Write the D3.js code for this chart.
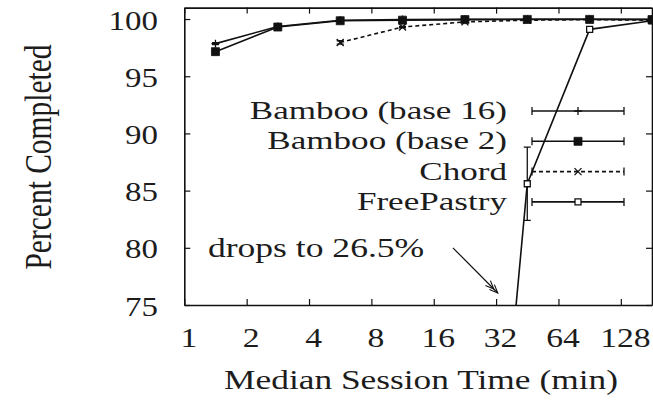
<!DOCTYPE html>
<html><head><meta charset="utf-8">
<script src="https://cdn.jsdelivr.net/npm/d3@7"></script>
<style>
body{margin:0;background:#fff}
svg{display:block}
text{font-family:'Liberation Serif','Times New Roman',serif;fill:#1c1c1c}
</style>
</head><body><svg id="c" width="653" height="400"></svg>
<script>
// ---- data ----
const sessionTimes = [1.414, 2.828, 5.657, 11.31, 22.63, 45.25, 90.51, 181.0];
const bamboo16     = [97.85, 99.35, 99.9, 99.95, 99.97, 99.98, 99.98, 99.98];
const bamboo16Err  = [0.08, 0.05, 0.03, 0.02, 0.02, 0.02, 0.02, 0.02];
const bamboo2      = [97.15, 99.3, 99.85, 99.9, 99.95, 99.97, 99.97, 99.95];
const bamboo2Err   = [0.1, 0.05, 0.03, 0.02, 0.02, 0.02, 0.02, 0.02];
const chord        = [null, null, 97.95, 99.3, 99.75, 99.9, 99.95, 99.9];
const chordErr     = [0, 0, 0.15, 0.06, 0.04, 0.03, 0.02, 0.02];
const freePastry   = [null, null, null, null, 26.5, 85.6, 99.1, 99.85];
const freePastryErr= [0, 0, 0, 0, 0, 3.2, 0.1, 0.05];
const seriesNames  = ["Bamboo (base 16)", "Bamboo (base 2)", "Chord", "FreePastry"];
const xTicks = [1, 2, 4, 8, 16, 32, 64, 128];
const yTicks = [75, 80, 85, 90, 95, 100];
const annotationText = "drops to 26.5%";
const xTitle = "Median Session Time (min)";
const yTitle = "Percent Completed";

// ---- layout ----
const L = 184.3, R = 652, T = 7.6, B = 305;
const svg = d3.select("#c");
const x = d3.scaleLog().base(2).domain([1, 181.02]).range([L, R]);
const y = d3.scaleLinear().domain([75, 101]).range([B, T]);
const ink = "#111";

function stretch(sel, sx){
  sel.each(function(){
    const t = d3.select(this);
    const tx = +t.attr("x") || 0, ty = +t.attr("y") || 0;
    t.attr("x", 0).attr("y", 0).attr("transform", `translate(${tx},${ty}) scale(${sx},1)`);
  });
}

const series = [
  {name: seriesNames[0], v: bamboo16, e: bamboo16Err, dash: null, marker: "plus"},
  {name: seriesNames[1], v: bamboo2, e: bamboo2Err, dash: null, marker: "fsquare"},
  {name: seriesNames[2], v: chord, e: chordErr, dash: "4,3", marker: "cross"},
  {name: seriesNames[3], v: freePastry, e: freePastryErr, dash: null, marker: "osquare"}
];

function markerPath(type){
  if (type === "plus") return "M-4,0H4M0,-4V4";
  if (type === "cross") return "M-3.5,-3.5L3.5,3.5M-3.5,3.5L3.5,-3.5";
  if (type === "fsquare") return "M-4,-4H4V4H-4Z";
  return "M-3,-3H3V3H-3Z";
}
function drawMarker(g, type, cx, cy){
  const p = g.append("path").attr("d", markerPath(type)).attr("transform", `translate(${cx},${cy})`);
  if (type === "fsquare") p.attr("fill", ink).attr("stroke", ink).attr("stroke-width", 0.8);
  else if (type === "osquare") p.attr("fill", "#fff").attr("stroke", ink).attr("stroke-width", 1.3);
  else p.attr("fill", "none").attr("stroke", ink).attr("stroke-width", 1.3);
}

// ---- clip ----
svg.append("defs").append("clipPath").attr("id", "clip")
  .append("rect").attr("x", L).attr("y", T).attr("width", R - L).attr("height", B - T);
const plot = svg.append("g").attr("clip-path", "url(#clip)");

const line = d3.line().defined(d => d.v != null).x(d => x(d.t)).y(d => y(d.v));

series.slice().reverse().forEach(s => {
  const pts = sessionTimes.map((t, i) => ({t, v: s.v[i], e: s.e[i]}));
  plot.append("path").datum(pts).attr("d", line)
    .attr("fill", "none").attr("stroke", ink).attr("stroke-width", 1.6)
    .attr("stroke-dasharray", s.dash);
  pts.filter(d => d.v != null && d.v >= 75).forEach(d => {
    const cx = x(d.t);
    if (d.e > 0){
      const y1 = y(d.v - d.e), y2 = y(d.v + d.e);
      plot.append("path").attr("d", `M${cx},${y1}V${y2}M${cx-3.5},${y1}H${cx+3.5}M${cx-3.5},${y2}H${cx+3.5}`)
        .attr("stroke", ink).attr("stroke-width", 1.3).attr("fill", "none");
    }
    drawMarker(plot, s.marker, cx, y(d.v));
  });
});

// ---- axes (border with mirrored inward ticks) ----
const axB = svg.append("g").attr("transform", `translate(0,${B})`)
  .call(d3.axisBottom(x).tickValues(xTicks).tickFormat(d => d).tickSizeInner(-6).tickSizeOuter(0));
const axT = svg.append("g").attr("transform", `translate(0,${T})`)
  .call(d3.axisTop(x).tickValues(xTicks).tickFormat("").tickSizeInner(-6).tickSizeOuter(0));
const axL = svg.append("g").attr("transform", `translate(${L},0)`)
  .call(d3.axisLeft(y).tickValues(yTicks).tickFormat(d => d).tickSizeInner(-6).tickSizeOuter(0));
const axR = svg.append("g").attr("transform", `translate(${R},0)`)
  .call(d3.axisRight(y).tickValues(yTicks).tickFormat("").tickSizeInner(-6).tickSizeOuter(0));
[axB, axT, axL, axR].forEach(a => {
  a.selectAll("path.domain").attr("stroke", ink).attr("stroke-width", 1.6);
  a.selectAll(".tick line").attr("stroke", ink).attr("stroke-width", 1.2);
});
axB.selectAll("text").attr("font-size", 28).attr("fill", "#1c1c1c")
  .attr("font-family", "'Liberation Serif',serif").attr("dy", 0).attr("y", 42).attr("x", 4);
stretch(axB.selectAll("text"), 1.2);
axL.selectAll("text").attr("font-size", 27).attr("fill", "#1c1c1c")
  .attr("font-family", "'Liberation Serif',serif").attr("dy", 0).attr("y", 10).attr("x", -26.3);
stretch(axL.selectAll("text"), 1.22);

// ---- titles ----
const xt = svg.append("text").attr("x", 421).attr("y", 389).attr("text-anchor", "middle")
  .attr("font-size", 27).text(xTitle);
stretch(xt, 1.31);
svg.append("text").attr("transform", "translate(51,157) scale(1.25,1) rotate(-90)")
  .attr("text-anchor", "middle").attr("font-size", 29.5).text(yTitle);

// ---- legend ----
const legX0 = 532, legX1 = 624, legXm = 578;
series.forEach((s, i) => {
  const ly = 111 + i * 30.3;
  const g = svg.append("g");
  const t = g.append("text").attr("x", 507).attr("y", ly + 8).attr("text-anchor", "end")
    .attr("font-size", 26).text(s.name);
  stretch(t, 1.35);
  g.append("path").attr("d", `M${legX0},${ly}H${legX1}`).attr("stroke", ink).attr("stroke-width", 1.6)
    .attr("stroke-dasharray", s.dash).attr("fill", "none");
  g.append("path").attr("d", `M${legX0},${ly-4}V${ly+4}M${legX1},${ly-4}V${ly+4}`)
    .attr("stroke", ink).attr("stroke-width", 1.3);
  drawMarker(g, s.marker, legXm, ly);
});

// ---- annotation ----
const at = svg.append("text").attr("x", x(1.3)).attr("y", y(79.2)).attr("font-size", 28).text(annotationText);
stretch(at, 1.27);
const ax1 = x(19.8), ay1 = y(80), ax2 = x(32.6), ay2 = y(76.05);
const ang = Math.atan2(ay2 - ay1, ax2 - ax1);
svg.append("path").attr("d", `M${ax1},${ay1}L${ax2},${ay2}`).attr("stroke", ink).attr("stroke-width", 1.2);
const hl = 9, ha = 0.4;
svg.append("path").attr("d",
  `M${ax2 - hl*Math.cos(ang-ha)},${ay2 - hl*Math.sin(ang-ha)}L${ax2},${ay2}L${ax2 - hl*Math.cos(ang+ha)},${ay2 - hl*Math.sin(ang+ha)}` +
  `M${ax2 - 4 - hl*Math.cos(ang-ha)},${ay2 - 4 - hl*Math.sin(ang-ha)}L${ax2-4},${ay2-4}L${ax2 - 4 - hl*Math.cos(ang+ha)},${ay2 - 4 - hl*Math.sin(ang+ha)}`)
  .attr("stroke", ink).attr("stroke-width", 1.1).attr("fill", "none");
</script></body></html>
